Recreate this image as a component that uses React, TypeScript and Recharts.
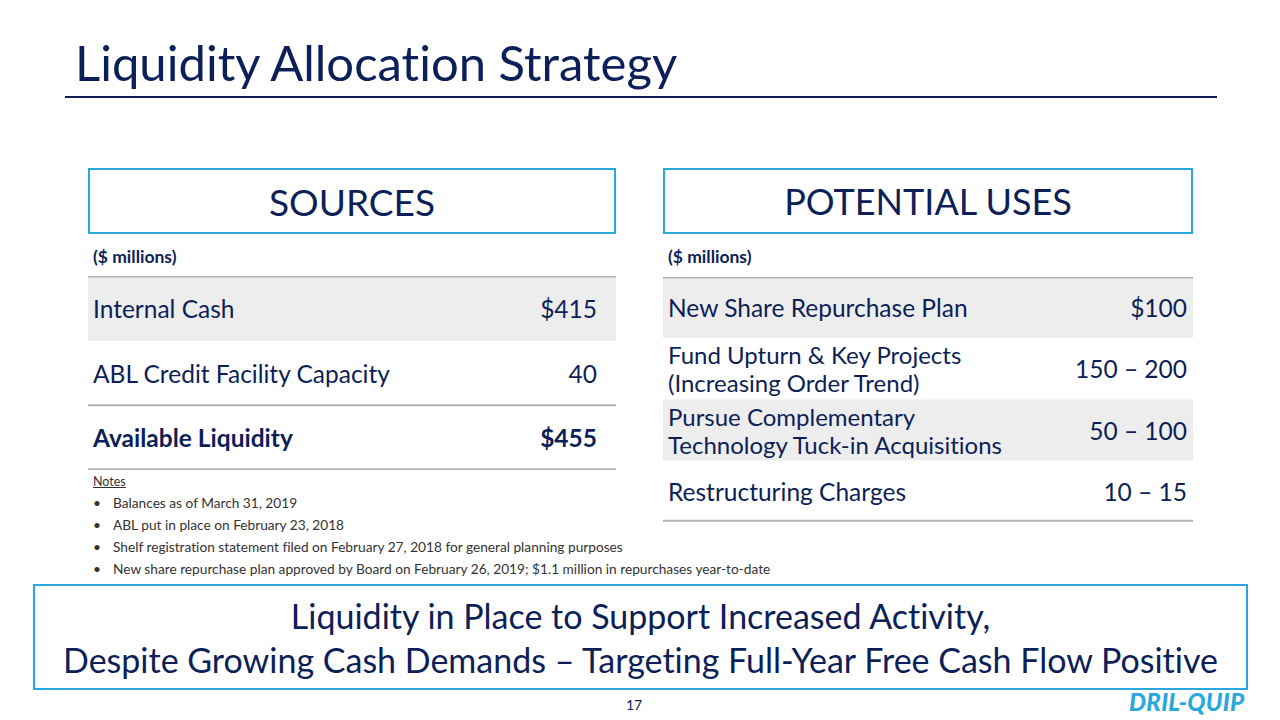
import React from 'react';
import { BarChart, Bar, XAxis, YAxis } from 'recharts';

const sourceLabels = ['Internal Cash', 'ABL Credit Facility Capacity', 'Available Liquidity'];
const sourceValues = ['$415', '40', '$455'];
const useLabels = [
  'New Share Repurchase Plan',
  'Fund Upturn & Key Projects\n(Increasing Order Trend)',
  'Pursue Complementary\nTechnology Tuck-in Acquisitions',
  'Restructuring Charges',
];
const useValues = ['$100', '150 – 200', '50 – 100', '10 – 15'];
const notes = [
  'Balances as of March 31, 2019',
  'ABL put in place on February 23, 2018',
  'Shelf registration statement filed on February 27, 2018 for general planning purposes',
  'New share repurchase plan approved by Board on February 26, 2019; $1.1 million in repurchases year-to-date',
];
const headline = [
  'Liquidity in Place to Support Increased Activity,',
  'Despite Growing Cash Demands – Targeting Full-Year Free Cash Flow Positive',
];

const NAVY = '#0c1f58';
const BLUE = '#2aa7dd';
const ROW_GRAY = '#ededed';
const RULE = '#b4b4b4';
const FONT = 'Lato, "Open Sans", sans-serif';
const NOLIG: React.CSSProperties = { fontVariantLigatures: 'none', fontFeatureSettings: '"liga" 0, "clig" 0' };

type Row = { label: string; value: string; span: number };

const makeRows = (labels: string[], values: string[]): Row[] =>
  labels.map((label, i) => ({ label, value: values[i], span: 1 }));

function makeShape(total: number, boldLast: boolean, rightPad: number) {
  return (props: any) => {
    const { x, y, width, height, index, payload } = props;
    const isLast = index === total - 1;
    const bold = boldLast && isLast;
    const lines: string[] = String(payload.label).split('\n');
    const cy = y + height / 2;
    const lh = 28;
    const startY = cy - ((lines.length - 1) * lh) / 2;
    return (
      <g>
        <rect x={x} y={y} width={width} height={height} fill={index % 2 === 0 && !bold ? ROW_GRAY : '#ffffff'} />
        {index === 0 && <line x1={x} x2={x + width} y1={y + 0.5} y2={y + 0.5} stroke={RULE} strokeWidth={2} />}
        {bold && <line x1={x} x2={x + width} y1={y} y2={y} stroke={RULE} strokeWidth={2} />}
        {isLast && <line x1={x} x2={x + width} y1={y + height - 1} y2={y + height - 1} stroke={RULE} strokeWidth={2} />}
        {lines.map((l, i) => (
          <text
            key={i}
            x={x + 5}
            y={startY + i * lh}
            fill={NAVY}
            fontFamily={FONT}
            fontSize={lines.length > 1 ? 24 : 24.5}
            fontWeight={bold ? 700 : 400}
            dominantBaseline="central"
            style={NOLIG}
          >
            {l}
          </text>
        ))}
        <text
          x={x + width - rightPad}
          y={cy}
          fill={NAVY}
          fontFamily={FONT}
          fontSize={24.5}
          fontWeight={bold ? 700 : 400}
          textAnchor="end"
          dominantBaseline="central"
          style={NOLIG}
        >
          {payload.value}
        </text>
      </g>
    );
  };
}

function TableChart({ rows, width, height, boldLast, rightPad }: { rows: Row[]; width: number; height: number; boldLast: boolean; rightPad: number }) {
  return (
    <BarChart
      layout="vertical"
      width={width}
      height={height}
      data={rows}
      margin={{ top: 0, right: 0, bottom: 0, left: 0 }}
      barCategoryGap={0}
    >
      <XAxis type="number" domain={[0, 1]} hide />
      <YAxis type="category" dataKey="label" hide />
      <Bar dataKey="span" isAnimationActive={false} shape={makeShape(rows.length, boldLast, rightPad)} />
    </BarChart>
  );
}

const abs = (left: number, top: number, extra: React.CSSProperties = {}): React.CSSProperties => ({
  position: 'absolute',
  left,
  top,
  ...extra,
});

export default function App() {
  return (
    <div style={{ position: 'absolute', left: 0, top: 0, width: 1280, height: 720, background: '#fff', overflow: 'hidden', fontFamily: FONT, color: NAVY, ...NOLIG }}>
      <div style={abs(75, 31, { fontSize: 49, lineHeight: '62px', whiteSpace: 'nowrap' })}>Liquidity Allocation Strategy</div>
      <div style={abs(65, 96, { width: 1152, height: 2, background: NAVY })} />

      <div style={abs(88, 168, { width: 528, height: 66, boxSizing: 'border-box', border: `2px solid ${BLUE}`, display: 'flex', alignItems: 'center', justifyContent: 'center', fontSize: 37 })}>SOURCES</div>
      <div style={abs(663, 168, { width: 530, height: 66, boxSizing: 'border-box', border: `2px solid ${BLUE}`, display: 'flex', alignItems: 'center', justifyContent: 'center', fontSize: 36 })}>POTENTIAL USES</div>

      <div style={abs(93, 245, { fontSize: 17.5, fontWeight: 700, lineHeight: '24px' })}>($ millions)</div>
      <div style={abs(668, 245, { fontSize: 17.5, fontWeight: 700, lineHeight: '24px' })}>($ millions)</div>

      <div style={abs(88, 276)}>
        <TableChart rows={makeRows(sourceLabels, sourceValues)} width={528} height={194} boldLast rightPad={19} />
      </div>
      <div style={abs(663, 277)}>
        <TableChart rows={makeRows(useLabels, useValues)} width={530} height={245} boldLast={false} rightPad={6} />
      </div>

      <div style={abs(93, 474, { fontSize: 12.5, lineHeight: '16px', color: '#333', textDecoration: 'underline' })}>Notes</div>
      {notes.map((n, i) => (
        <div key={i} style={abs(93, 493 + i * 22, { fontSize: 13.7, lineHeight: '19px', color: '#333', whiteSpace: 'nowrap' })}>
          <span style={{ display: 'inline-block', width: 20 }}>•</span>
          {n}
        </div>
      ))}

      <div style={abs(33, 584, { width: 1215, height: 106, boxSizing: 'border-box', border: `2px solid ${BLUE}` })} />
      {headline.map((h, i) => (
        <div key={i} style={abs(33, 595 + i * 44, { width: 1215, textAlign: 'center', fontSize: 34, lineHeight: '42px', whiteSpace: 'nowrap' })}>
          {h}
        </div>
      ))}

      <div style={abs(620, 696, { width: 28, textAlign: 'center', fontSize: 14, lineHeight: '18px' })}>17</div>
      <div style={abs(1129, 688, { fontSize: 24, fontWeight: 900, fontStyle: 'italic', color: BLUE, lineHeight: '28px', letterSpacing: 0.3 })}>DRIL-QUIP</div>
    </div>
  );
}
